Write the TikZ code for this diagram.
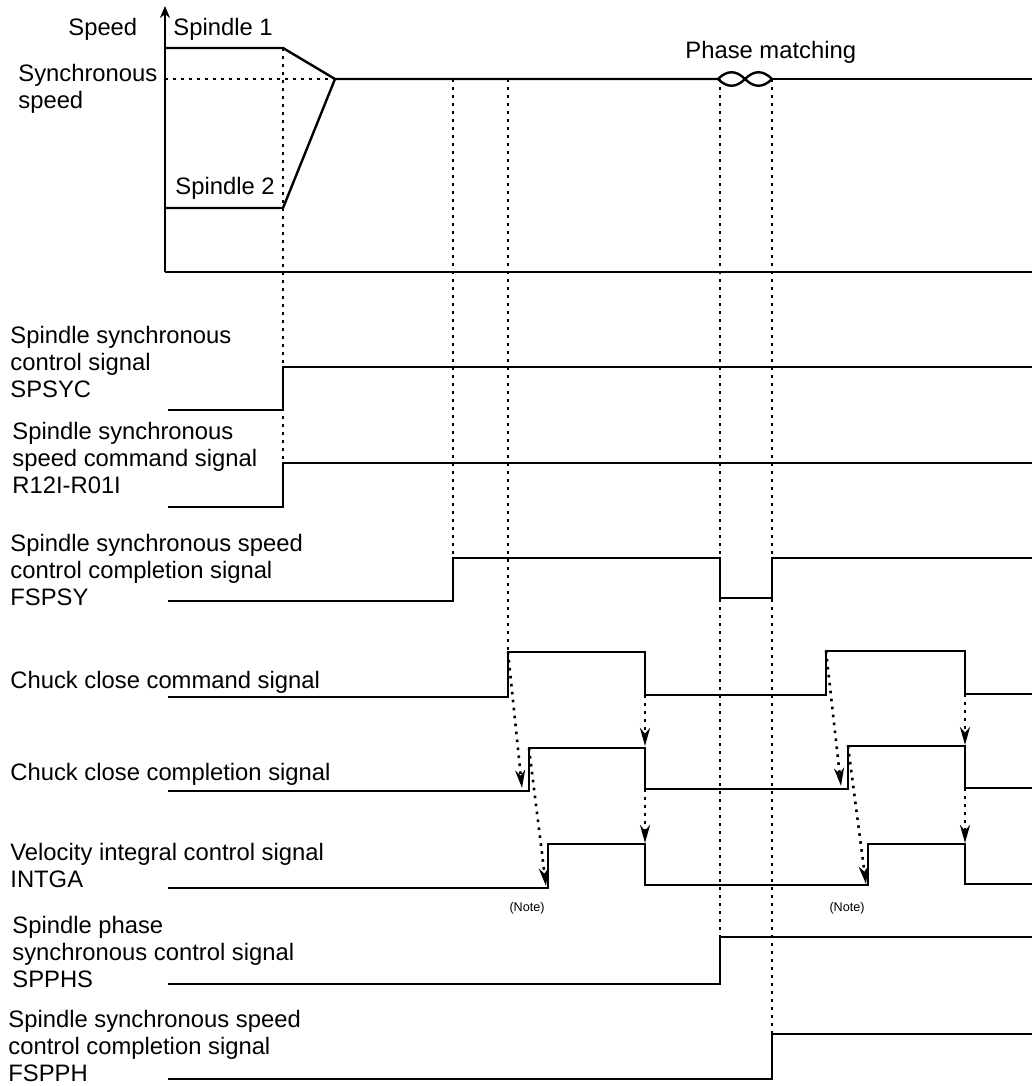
\documentclass[tikz,border=0pt]{standalone}
\usepackage{fontspec}
\setmainfont{Liberation Sans}
\usetikzlibrary{arrows.meta}

\begin{document}
\begin{tikzpicture}[
    x=0.5pt, y=-0.5pt,
    font=\fontsize{11.9}{13.5}\selectfont,
    sigtext/.style={
        anchor=base west,
        align=left,
        inner sep=0pt
    },
    notetext/.style={
        font=\fontsize{6.3}{7}\selectfont,
        inner sep=0pt
    },
    signal/.style={
        line width=1.2pt,
        line join=miter
    },
    guide/.style={
        line width=1.3pt,
        dash pattern=on 1.3pt off 2.7pt
    },
    cause/.style={
        guide,
        -{Stealth[length=9pt, width=5pt, inset=2.8pt]}
    }
]
    \useasboundingbox (0,0) rectangle (1032,1086);

    % speed chart
    \node[sigtext] (speed) at (68,36) {Speed};
    \node[sigtext] (spindle1) at (173,36) {Spindle 1};
    \node[sigtext] (syncspeed) at (18,109) {Synchronous\\speed};
    \node[sigtext] (spindle2) at (175,194) {Spindle 2};
    \node[sigtext] (phase) at (685,59) {Phase matching};

    \coordinate (origin) at (165,272);
    \coordinate (axistop) at (165,6);
    \coordinate (axisend) at (1032,272);
    \coordinate (start) at (283,48);
    \coordinate (reach) at (335,79);
    \coordinate (matchin) at (718,79);
    \coordinate (matchmid) at (745,79);
    \coordinate (matchout) at (772,79);

    \draw[signal, -{Stealth[length=6pt, width=5pt]}] (origin) -- (axistop);
    \draw[signal] (origin) -- (axisend);
    \draw[signal] (165,48) -- (start) -- (reach) -- (matchin);
    \draw[signal] (165,208) -- (283,208) -- (reach);
    \draw[signal] (matchin) .. controls (727,70) and (736,70) .. (matchmid)
        .. controls (754,88) and (763,88) .. (matchout);
    \draw[signal] (matchin) .. controls (727,88) and (736,88) .. (matchmid)
        .. controls (754,70) and (763,70) .. (matchout);
    \draw[signal] (matchout) -- (1032,79);
    \draw[guide] (165,79) -- (reach);

    % signal labels
    \node[sigtext] (spsyc) at (10,397) {Spindle synchronous\\control signal\\SPSYC};
    \node[sigtext] (r12i) at (12,493) {Spindle synchronous\\speed command signal\\R12I-R01I};
    \node[sigtext] (fspsy) at (10,605) {Spindle synchronous speed\\control completion signal\\FSPSY};
    \node[sigtext] (chuckcmd) at (10,688) {Chuck close command signal};
    \node[sigtext] (chuckdone) at (10,780) {Chuck close completion signal};
    \node[sigtext] (intga) at (10,887) {Velocity integral control signal\\INTGA};
    \node[sigtext] (spphs) at (12,987) {Spindle phase\\synchronous control signal\\SPPHS};
    \node[sigtext] (fspph) at (8,1081) {Spindle synchronous speed\\control completion signal\\FSPPH};
    \node[notetext] (note1) at (527,908) {(Note)};
    \node[notetext] (note2) at (847,908) {(Note)};

    % waveforms
    \draw[signal] (168,410) -- (283,410) -- (283,367) coordinate (spsycon) -- (1032,367);
    \draw[signal] (168,507) -- (283,507) -- (283,463) coordinate (r12ion) -- (1032,463);
    \draw[signal] (168,601) -- (453,601) -- (453,558) coordinate (fspsyon)
        -- (720,558) -- (720,598) -- (772,598) -- (772,558) -- (1032,558);
    \draw[signal] (168,697) -- (508,697) -- (508,652) coordinate (cmdon1)
        -- (645,652) -- (645,695) coordinate (cmdoff1)
        -- (826,695) -- (826,651) coordinate (cmdon2)
        -- (965,651) -- (965,694) coordinate (cmdoff2) -- (1032,694);
    \draw[signal] (168,791) -- (529,791) -- (529,748) coordinate (doneon1)
        -- (645,748) -- (645,789) coordinate (doneoff1)
        -- (848,789) -- (848,746) coordinate (doneon2)
        -- (965,746) -- (965,788) coordinate (doneoff2) -- (1032,788);
    \draw[signal] (168,888) -- (548,888) -- (548,844)
        -- (645,844) -- (645,885) -- (868,885) -- (868,844)
        -- (965,844) -- (965,884) -- (1032,884);
    \draw[signal] (168,984) -- (720,984) -- (720,937) coordinate (spphson) -- (1032,937);
    \draw[signal] (168,1079) -- (772,1079) -- (772,1034) coordinate (fspphon) -- (1032,1034);

    % timing guides
    \draw[guide] (start) -- (r12ion);
    \draw[guide] (453,79) -- (fspsyon);
    \draw[guide] (508,79) -- (cmdon1);
    \draw[guide] (720,79) -- (spphson);
    \draw[guide] (772,79) -- (fspphon);

    % cause and effect
    \coordinate (donetip1) at (522,788);
    \coordinate (donetip2) at (841,786);
    \coordinate (inttip1) at (546,886);
    \coordinate (inttip2) at (866,884);
    \draw[cause] (cmdon1) -- (donetip1);
    \draw[cause] (doneon1) -- (inttip1);
    \draw[cause] (cmdoff1) -- (645,746);
    \draw[cause] (doneoff1) -- (645,843);
    \draw[cause] (cmdon2) -- (donetip2);
    \draw[cause] (doneon2) -- (inttip2);
    \draw[cause] (cmdoff2) -- (965,745);
    \draw[cause] (doneoff2) -- (965,843);
\end{tikzpicture}
\end{document}
